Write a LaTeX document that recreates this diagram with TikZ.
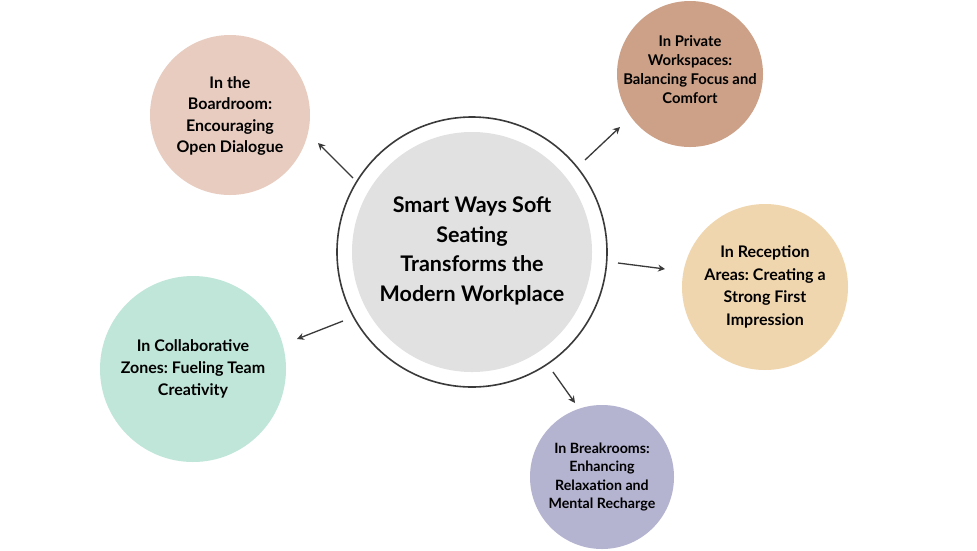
\documentclass[tikz,border=0pt]{standalone}
\usepackage{fontspec}
\setmainfont{Lato}
\usetikzlibrary{arrows.meta}
\definecolor{cBoard}{HTML}{E8CCC0}
\definecolor{cPriv}{HTML}{CCA188}
\definecolor{cRecep}{HTML}{F0D6AF}
\definecolor{cCollab}{HTML}{C0E6DA}
\definecolor{cBreak}{HTML}{B4B3D0}
\definecolor{cCenter}{HTML}{E1E1E1}
\definecolor{cLine}{HTML}{3A3A3A}
\tikzset{
  bubble/.style={circle, inner sep=0pt, draw=none},
  lbl/.style={inner sep=0pt, align=center},
  conn/.style={draw=cLine, line width=1.3pt, -{Stealth[length=7pt,width=7pt]}},
}
\frenchspacing
\begin{document}
\begin{tikzpicture}[x=1pt,y=-1pt]
\useasboundingbox (0,0) rectangle (977,550);
\fill[white] (0,0) rectangle (977,550);
% centre
\node[circle, draw=cLine, line width=1.6pt, fill=white, minimum size=270pt] (ring) at (472,252) {};
\node[bubble, fill=cCenter, minimum size=240pt] (c) at (472,252) {};
\node[lbl, font=\bfseries\fontsize{21.5}{29.5}\selectfont] (ct) at (472,251) {Smart Ways Soft\\Seating\\Transforms the\\Modern Workplace};
% outer
\node[bubble, fill=cBoard, minimum size=160pt] (board) at (230,115) {};
\node[lbl, font=\bfseries\fontsize{16}{21.5}\selectfont] (boardt) at (230,116) {In the\\Boardroom:\\Encouraging\\Open Dialogue};
\node[bubble, fill=cPriv, minimum size=146pt] (priv) at (690,74) {};
\node[lbl, font=\bfseries\fontsize{14.8}{19}\selectfont] (privt) at (690,70) {In Private\\Workspaces:\\Balancing Focus and\\Comfort};
\node[bubble, fill=cRecep, minimum size=166pt] (recep) at (765,287) {};
\node[lbl, font=\bfseries\fontsize{16}{22.5}\selectfont] (recept) at (recep) {In Reception\\Areas: Creating a\\Strong First\\Impression};
\node[bubble, fill=cCollab, minimum size=186pt] (collab) at (193,369) {};
\node[lbl, font=\bfseries\fontsize{16}{22}\selectfont] (collabt) at (collab) {In Collaborative\\Zones: Fueling Team\\Creativity};
\node[bubble, fill=cBreak, minimum size=144pt] (brk) at (602,477) {};
\node[lbl, font=\bfseries\fontsize{14.2}{18.5}\selectfont] (brkt) at (brk) {In Breakrooms:\\Enhancing\\Relaxation and\\Mental Recharge};
% connectors
\coordinate (sb) at (353,178); \coordinate (eb) at (318,143);
\coordinate (sp) at (585,160); \coordinate (ep) at (620,127);
\coordinate (sr) at (618,263); \coordinate (er) at (665,269);
\coordinate (sc) at (343,321); \coordinate (ec) at (297,339);
\coordinate (sk) at (553,372); \coordinate (ek) at (575,403);
\draw[conn] (sb) -- (eb);
\draw[conn] (sp) -- (ep);
\draw[conn] (sr) -- (er);
\draw[conn] (sc) -- (ec);
\draw[conn] (sk) -- (ek);
\end{tikzpicture}
\end{document}
